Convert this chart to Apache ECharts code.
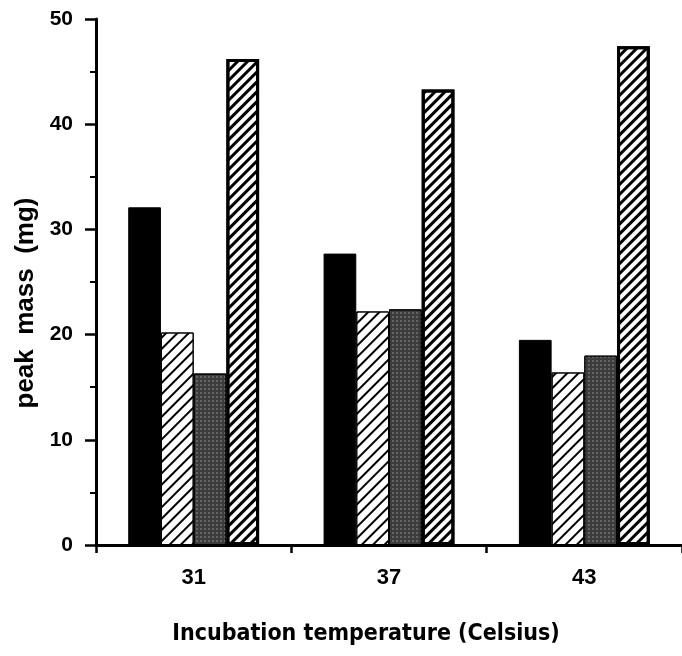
<!DOCTYPE html>
<html>
<head>
<meta charset="utf-8">
<script src="https://cdn.jsdelivr.net/npm/echarts@6/dist/echarts.min.js"></script>
<style>
  html, body { margin: 0; padding: 0; background: #fff; }
  #chart { width: 682px; height: 656px; }
</style>
</head>
<body>
<div id="chart"></div>
<script>
// incubation temperatures
const categories = ['31', '37', '43']
// peak mass (mg), one array per bar pattern
const solidBlack = [32.1, 27.7, 19.5]
const fineHatch = [20.2, 22.2, 16.4]
const stipple = [16.3, 22.4, 18.0]
const boldHatch = [46.2, 43.3, 47.4]
const yTicks = [0, 10, 20, 30, 40, 50]

const font = 'Liberation Sans, Arial, sans-serif'
const chart = echarts.init(document.getElementById('chart'))

const option = {
  backgroundColor: '#fff',
  animation: false,
  grid: {
    left: 96,
    right: -5,
    top: 19,
    bottom: 111
  },
  xAxis: {
    type: 'category',
    data: categories,
    name: 'Incubation temperature (Celsius)',
    nameLocation: 'middle',
    nameGap: 78,
    nameTextStyle: {
      fontFamily: 'Liberation Sans Narrow, DejaVu Sans Condensed, Arial, sans-serif',
      fontWeight: 'bold',
      fontSize: 23,
      color: '#000',
      padding: [0, 46, 0, 0]
    },
    axisLine: { lineStyle: { color: '#000', width: 3 } },
    axisTick: { show: true, length: 8, lineStyle: { color: '#000', width: 2.5 } },
    axisLabel: {
      margin: 22,
      fontFamily: font,
      fontWeight: 'bold',
      fontSize: 22,
      color: '#000'
    }
  },
  yAxis: {
    type: 'value',
    min: yTicks[0],
    max: yTicks[yTicks.length - 1],
    interval: 10,
    name: 'peak  mass  (mg)',
    nameLocation: 'middle',
    nameGap: 56,
    nameTextStyle: {
      fontFamily: font,
      fontWeight: 'bold',
      fontSize: 26,
      color: '#000',
      padding: [0, 42, 0, 0]
    },
    axisLine: { show: true, lineStyle: { color: '#000', width: 3 } },
    axisTick: { show: true, length: 11, lineStyle: { color: '#000', width: 2.5 } },
    minorTick: { show: true, splitNumber: 2, length: 6, lineStyle: { color: '#000', width: 2 } },
    splitLine: { show: false },
    axisLabel: {
      margin: 23,
      fontFamily: font,
      fontWeight: 'bold',
      fontSize: 21,
      color: '#000'
    }
  },
  series: [
    {
      type: 'bar',
      data: solidBlack,
      barGap: '0%',
      barCategoryGap: '33%',
      itemStyle: { color: '#000', borderColor: '#000', borderWidth: 1 }
    },
    {
      type: 'bar',
      data: fineHatch,
      itemStyle: {
        color: '#fff',
        borderColor: '#000',
        borderWidth: 1,
        decal: {
          symbol: 'rect',
          color: '#000',
          dashArrayX: [1, 0],
          dashArrayY: [1.2, 5.5],
          rotation: -Math.PI / 4
        }
      }
    },
    {
      type: 'bar',
      data: stipple,
      itemStyle: {
        color: '#3c3c3c',
        borderColor: '#000',
        borderWidth: 1,
        decal: {
          symbol: 'rect',
          color: 'rgba(255,255,255,0.7)',
          symbolSize: 0.6,
          dashArrayX: [[1.5, 2]],
          dashArrayY: [1.5, 2],
          rotation: 0
        }
      }
    },
    {
      type: 'bar',
      data: boldHatch,
      itemStyle: {
        color: '#fff',
        borderColor: '#000',
        borderWidth: 3,
        decal: {
          symbol: 'rect',
          color: '#000',
          dashArrayX: [1, 0],
          dashArrayY: [2.5, 4],
          rotation: -Math.PI / 4
        }
      }
    }
  ]
}

chart.setOption(option)
</script>
</body>
</html>
